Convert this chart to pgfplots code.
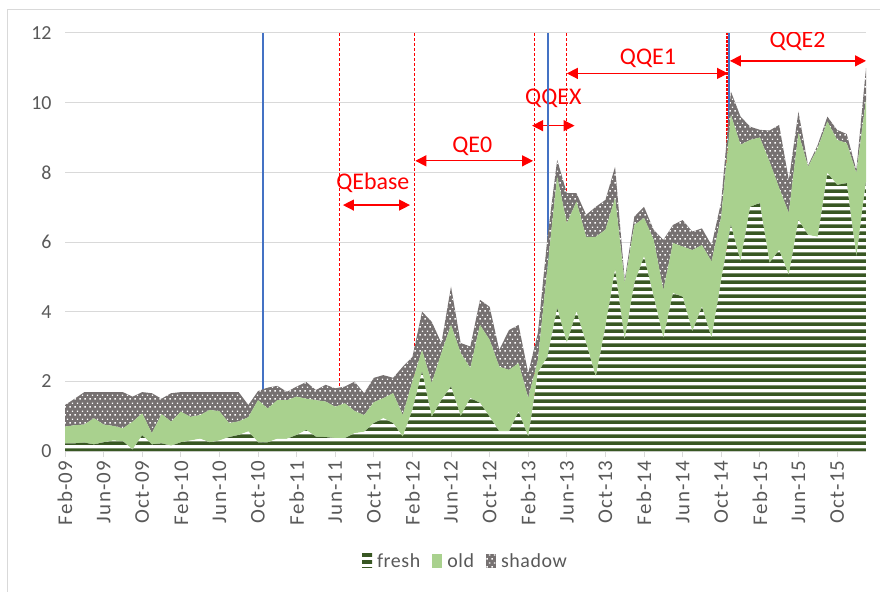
\documentclass[border=0pt]{standalone}
\usepackage{fontspec}
\setmainfont{Carlito}
\usepackage{pgfplots}
\pgfplotsset{compat=1.18}
\usepackage{pgfplotstable}
\usetikzlibrary{patterns,arrows.meta}
\definecolor{fgreen}{HTML}{385723}
\definecolor{ogreen}{HTML}{A9D18E}
\definecolor{sgray}{HTML}{767171}
\definecolor{tickgray}{HTML}{595959}
\definecolor{gridgray}{HTML}{D9D9D9}
\definecolor{qblue}{HTML}{4472C4}
\pgfdeclarepatternformonly{hstripes}{\pgfpoint{0bp}{0bp}}{\pgfpoint{1200bp}{7bp}}{\pgfpoint{1200bp}{7bp}}{%
  \pgfpathrectangle{\pgfpoint{0bp}{0bp}}{\pgfpoint{1200bp}{4bp}}\pgfusepath{fill}}
\pgfdeclarepatternformonly{wdots}{\pgfpoint{0bp}{0bp}}{\pgfpoint{5.4bp}{8bp}}{\pgfpoint{5.4bp}{8bp}}{%
  \pgfpathrectangle{\pgfpoint{0.5bp}{0.5bp}}{\pgfpoint{1.5bp}{1.5bp}}\pgfusepath{fill}%
  \pgfpathrectangle{\pgfpoint{3.2bp}{4.5bp}}{\pgfpoint{1.5bp}{1.5bp}}\pgfusepath{fill}}
\pgfplotstableread{
i F G T
0 0.22 0.70 1.32
1 0.22 0.74 1.50
2 0.24 0.76 1.69
3 0.19 0.94 1.69
4 0.25 0.76 1.69
5 0.30 0.72 1.69
6 0.28 0.65 1.69
7 0.04 0.84 1.56
8 0.45 1.08 1.69
9 0.19 0.51 1.66
10 0.22 1.06 1.50
11 0.15 0.84 1.66
12 0.25 1.13 1.69
13 0.30 0.98 1.69
14 0.35 1.03 1.69
15 0.25 1.18 1.69
16 0.30 1.14 1.69
17 0.40 0.80 1.69
18 0.46 0.85 1.69
19 0.56 0.97 1.32
20 0.25 1.46 1.72
21 0.25 1.22 1.82
22 0.35 1.46 1.87
23 0.35 1.46 1.70
24 0.46 1.56 1.85
25 0.60 1.50 1.98
26 0.41 1.46 1.75
27 0.40 1.42 1.90
28 0.37 1.27 1.80
29 0.37 1.37 1.85
30 0.51 1.15 1.99
31 0.55 1.03 1.66
32 0.80 1.40 2.10
33 0.94 1.52 2.18
34 0.80 1.66 2.10
35 0.41 1.03 2.42
36 1.18 2.00 2.70
37 2.28 2.90 4.00
38 0.98 1.95 3.71
39 1.46 2.81 3.10
40 1.85 3.62 4.72
41 1.00 2.81 3.10
42 1.52 2.38 3.00
43 1.38 3.62 4.34
44 0.98 3.19 4.14
45 0.56 2.42 2.90
46 0.56 2.33 3.47
47 1.13 2.52 3.62
48 0.41 1.52 2.24
49 2.24 2.61 3.39
50 2.71 5.29 6.15
51 4.10 7.88 8.36
52 3.10 6.54 7.40
53 4.00 7.16 7.40
54 3.10 6.15 6.78
55 2.13 6.15 7.01
56 3.57 6.35 7.21
57 5.20 7.26 8.16
58 3.19 4.82 4.91
59 4.82 6.49 6.73
60 5.58 6.69 7.01
61 4.43 6.06 6.35
62 3.24 4.62 6.06
63 4.53 5.97 6.49
64 4.43 5.87 6.63
65 3.43 5.77 6.30
66 4.14 5.91 6.39
67 3.24 5.44 5.91
68 4.91 6.73 7.16
69 6.49 9.65 10.32
70 5.44 8.79 9.60
71 7.01 8.93 9.31
72 7.12 9.00 9.22
73 5.40 8.31 9.20
74 5.77 7.55 9.36
75 5.05 6.83 7.78
76 6.63 9.13 9.74
77 6.20 8.16 8.20
78 6.15 8.70 8.79
79 7.98 9.46 9.60
80 7.64 8.93 9.22
81 7.69 8.84 9.10
82 5.58 7.98 8.07
83 7.73 10.08 10.99
}\datatable

\begin{document}
\begin{tikzpicture}
\useasboundingbox (-65bp,-141bp) rectangle (815bp,451bp);
\draw[gridgray, line width=0.8bp] (-58bp,-141bp) -- (-58bp,442bp) -- (815bp,442bp);
\begin{axis}[
  at={(0,0)}, anchor=south west,
  scale only axis, width=801bp, height=418bp,
  xmin=0, xmax=83, ymin=0, ymax=12,
  stack plots=y,
  axis x line*=bottom, axis y line*=left,
  y axis line style={draw=none},
  x axis line style={draw=gridgray, line width=1bp},
  xtick={0,4,...,80},
  xticklabels={Feb-09,Jun-09,Oct-09,Feb-10,Jun-10,Oct-10,Feb-11,Jun-11,Oct-11,Feb-12,Jun-12,Oct-12,Feb-13,Jun-13,Oct-13,Feb-14,Jun-14,Oct-14,Feb-15,Jun-15,Oct-15},
  xticklabel style={rotate=90, anchor=east, font=\fontsize{21}{21}\selectfont\addfontfeature{LetterSpace=6}, text=tickgray},
  ytick={0,2,...,12},
  yticklabel style={font=\fontsize{20}{20}\selectfont, text=tickgray, xshift=-4bp},
  /pgf/number format/assume math mode=true,
  tick align=outside, major tick length=6bp,
  xtick style={draw=gridgray, line width=1bp},
  ytick style={draw=none},
  ymajorgrids, grid style={draw=gridgray, line width=1bp},
  legend style={draw=none, legend columns=-1, at={(0.5,-0.263)}, anchor=center,
    font=\fontsize{20}{20}\selectfont\addfontfeature{LetterSpace=3}, text=tickgray,
    /tikz/every even column/.append style={column sep=10bp},
    /tikz/every odd column/.append style={column sep=3bp}},
  legend image code/.code={\path[#1, draw=none] (0bp,-7bp) rectangle (10bp,7bp);},
]
\addplot[draw=none, fill=white, postaction={pattern=hstripes, pattern color=fgreen}]
  table[x=i, y=F] {\datatable} \closedcycle;
\addlegendentry{fresh}
\addplot[draw=none, fill=ogreen]
  table[x=i, y expr=\thisrow{G}-\thisrow{F}] {\datatable} \closedcycle;
\addlegendentry{old}
\addplot[draw=none, fill=sgray, postaction={pattern=wdots, pattern color=white}]
  table[x=i, y expr=\thisrow{T}-\thisrow{G}] {\datatable} \closedcycle;
\addlegendentry{shadow}

\draw[gridgray, line width=1bp] (axis cs:0,0) -- (axis cs:83,0);

\draw[qblue, line width=2bp] (axis cs:20.5,0) -- (axis cs:20.5,12);
\draw[qblue, line width=2bp] (axis cs:50.0,0) -- (axis cs:50.0,12);
\draw[qblue, line width=2bp] (axis cs:68.8,0) -- (axis cs:68.8,12);
\draw[red, dash pattern=on 3bp off 2bp, line width=0.8bp] (axis cs:28.4,0) -- (axis cs:28.4,12);
\draw[red, dash pattern=on 3bp off 2bp, line width=0.8bp] (axis cs:36.2,0) -- (axis cs:36.2,12);
\draw[red, dash pattern=on 3bp off 2bp, line width=0.8bp] (axis cs:48.6,0) -- (axis cs:48.6,12);
\draw[red, dash pattern=on 3bp off 2bp, line width=0.8bp] (axis cs:52.0,0) -- (axis cs:52.0,12);
\draw[red, dash pattern=on 3bp off 1bp, line width=1.2bp] (axis cs:68.6,0) -- (axis cs:68.6,12);

\tikzset{qa/.style={red, line width=1.3bp, {Triangle[length=11bp,width=11bp]}-{Triangle[length=11bp,width=11bp]}}}
\draw[qa] (axis cs:28.8,7.06) -- (axis cs:35.75,7.06);
\draw[qa] (axis cs:36.3,8.33) -- (axis cs:48.5,8.33);
\draw[qa] (axis cs:48.4,9.34) -- (axis cs:52.8,9.34);
\draw[qa] (axis cs:52.0,10.84) -- (axis cs:68.7,10.84);
\draw[qa] (axis cs:68.9,11.2) -- (axis cs:83.0,11.2);
\tikzset{ql/.style={text=red, font=\fontsize{24}{24}\selectfont, inner sep=0pt}}
\node[ql] at (axis cs:31.9,7.69) {QEbase};
\node[ql] at (axis cs:42.2,8.76) {QE0};
\node[ql] at (axis cs:50.6,10.13) {QQEX};
\node[ql] at (axis cs:60.4,11.27) {QQE1};
\node[ql] at (axis cs:75.9,11.75) {QQE2};
\end{axis}
\end{tikzpicture}
\end{document}
